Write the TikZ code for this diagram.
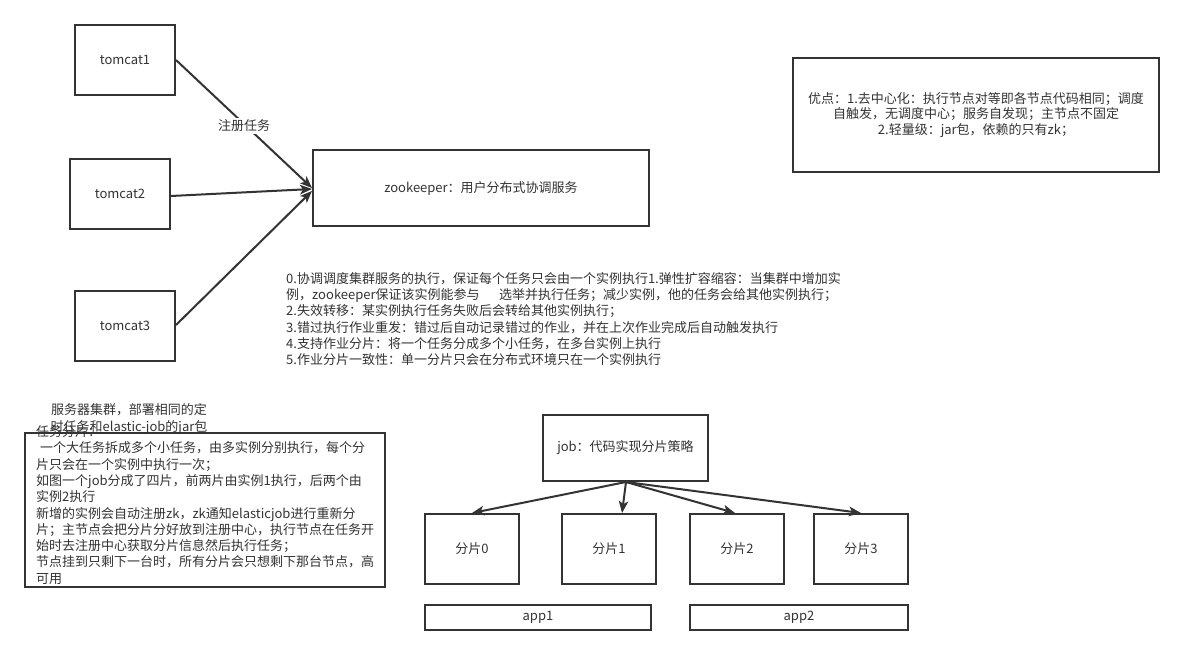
\documentclass[tikz,border=0pt]{standalone}
\usepackage{fontspec}
\setmainfont{Noto Sans CJK SC}
\usetikzlibrary{arrows.meta,calc}
\definecolor{ink}{HTML}{333333}
\begin{document}
\begin{tikzpicture}[x=1pt,y=-1pt,
  box/.style={draw=ink,line width=2pt,inner sep=0pt,text=ink,font=\fontsize{13}{16}\selectfont},
  txt/.style={inner sep=0pt,text=ink,font=\fontsize{13}{16.3}\selectfont},
  arr/.style={draw=ink,line width=2pt,-{Stealth[length=12pt,width=9.5pt,inset=3pt]}}]
\useasboundingbox[fill=white] (0,0) rectangle (1184,655);
% tomcat boxes
\node[box,minimum width=100pt,minimum height=70pt] (t1) at (125,60) {tomcat1};
\node[box,minimum width=100pt,minimum height=70pt] (t2) at (120,194) {tomcat2};
\node[box,minimum width=100pt,minimum height=70pt] (t3) at (125,326) {tomcat3};
\node[box,minimum width=336pt,minimum height=76pt] (zk) at (481,188) {zookeeper：用户分布式协调服务};
\draw[arr] (t1.east) -- node[txt,fill=white,inner sep=2pt,pos=0.5,yshift=-2pt] (reg) {注册任务} (zk.west);
\draw[arr] ($(t2.east)+(0,2)$) -- ($(zk.west)+(0,1)$);
\draw[arr] ($(t3.east)+(0,-1)$) -- ($(zk.west)+(0,3)$);
% advantages
\node[box,minimum width=366pt,minimum height=114pt,align=center,font=\fontsize{13}{15.5}\selectfont] (adv) at (976,115) {优点：1.去中心化：执行节点对等即各节点代码相同；调度\\自触发，无调度中心；服务自发现；主节点不固定\\2.轻量级：jar包，依赖的只有zk；};
% feature list
\node[txt,anchor=west,align=left] (feat) at (286,319) {0.协调调度集群服务的执行，保证每个任务只会由一个实例执行1.弹性扩容缩容：当集群中增加实\\例，zookeeper保证该实例能参与\hspace{1.5em}选举并执行任务；减少实例，他的任务会给其他实例执行；\\2.失效转移：某实例执行任务失败后会转给其他实例执行；\\3.错过执行作业重发：错过后自动记录错过的作业，并在上次作业完成后自动触发执行\\4.支持作业分片：将一个任务分成多个小任务，在多台实例上执行\\5.作业分片一致性：单一分片只会在分布式环境只在一个实例执行};
% server cluster
\node[txt,align=center] (cluster) at (129,419) {服务器集群，部署相同的定\\时任务和elastic-job的jar包};
\node[box,minimum width=360pt,minimum height=154pt] (shardbox) at (205,510) {};
\node[txt,anchor=west,align=left] (sharddesc) at (36,505) {任务分片：\\\hspace{4pt}一个大任务拆成多个小任务，由多实例分别执行，每个分\\片只会在一个实例中执行一次；\\如图一个job分成了四片，前两片由实例1执行，后两个由\\实例2执行\\新增的实例会自动注册zk，zk通知elasticjob进行重新分\\片；主节点会把分片分好放到注册中心，执行节点在任务开\\始时去注册中心获取分片信息然后执行任务；\\节点挂到只剩下一台时，所有分片会只想剩下那台节点，高\\可用};
% job and shards
\node[box,minimum width=165pt,minimum height=66pt] (job) at (625.5,448) {\raisebox{3pt}{job：代码实现分片策略}};
\node[box,minimum width=94pt,minimum height=70pt] (s0) at (472,549) {分片0};
\node[box,minimum width=94pt,minimum height=70pt] (s1) at (609,549) {分片1};
\node[box,minimum width=94pt,minimum height=70pt] (s2) at (737,549) {分片2};
\node[box,minimum width=94pt,minimum height=70pt] (s3) at (861,549) {分片3};
\coordinate (jb) at ($(job.south)+(0.5,0)$);
\draw[arr] (jb) -- (s0.north);
\draw[arr] (jb) -- ($(s1.north)+(13,0)$);
\draw[arr] (jb) -- ($(s2.north)+(-2,0)$);
\draw[arr] (jb) -- (s3.north);
\node[box,minimum width=226pt,minimum height=25pt] (app1) at (538,617.5) {app1};
\node[box,minimum width=218pt,minimum height=25pt] (app2) at (799,617.5) {app2};
\end{tikzpicture}
\end{document}
